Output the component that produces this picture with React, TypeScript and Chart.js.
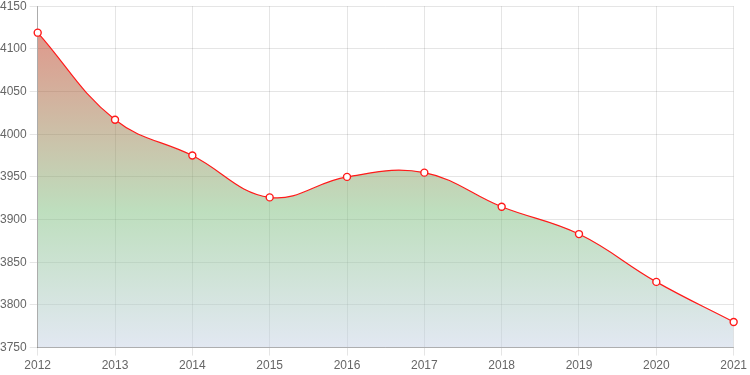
import React, { useEffect, useRef } from "react";
import { Chart, registerables } from "chart.js";

Chart.register(...registerables);

const years = ["2012", "2013", "2014", "2015", "2016", "2017", "2018", "2019", "2020", "2021"];
const values = [4119, 4017, 3975, 3926, 3950, 3955, 3915, 3883, 3827, 3780];
const yMin = 3750;
const yMax = 4150;
const yStep = 50;

export default function App() {
  const ref = useRef<HTMLCanvasElement | null>(null);

  useEffect(() => {
    document.body.style.margin = "0";
    const canvas = ref.current;
    if (!canvas) return;
    const chart = new Chart(canvas, {
      type: "line",
      data: {
        labels: years,
        datasets: [
          {
            data: values,
            borderColor: "#ff1a1a",
            borderWidth: 1.2,
            tension: 0.4,
            fill: true,
            backgroundColor: (ctx: any) => {
              const c = ctx.chart;
              const area = c.chartArea;
              if (!area) return "rgba(200,220,200,0.5)";
              const g = c.ctx.createLinearGradient(0, area.top, 0, area.bottom);
              g.addColorStop(0, "rgba(200,30,10,0.5)");
              g.addColorStop(0.6, "rgba(125,190,125,0.5)");
              g.addColorStop(1, "rgba(197,209,229,0.5)");
              return g;
            },
            pointRadius: 3.5,
            pointBorderWidth: 1.4,
            pointBackgroundColor: "#ffffff",
            pointBorderColor: "#ff1a1a",
          },
        ],
      },
      options: {
        responsive: false,
        animation: false,
        plugins: { legend: { display: false }, tooltip: { enabled: false } },
        layout: { padding: { left: -3, right: 16, top: 0, bottom: 0 } },
        scales: {
          x: {
            offset: false,
            grid: { color: "rgba(0,0,0,0.1)", tickLength: 8 },
            border: { color: "rgba(0,0,0,0.25)" },
            ticks: {
              color: "#666",
              font: { family: "'Liberation Sans', Arial, sans-serif", size: 12 },
              maxRotation: 0,
            },
          },
          y: {
            min: yMin,
            max: yMax,
            grid: { color: "rgba(0,0,0,0.1)", tickLength: 8 },
            border: { color: "rgba(0,0,0,0.25)" },
            ticks: {
              stepSize: yStep,
              color: "#666",
              font: { family: "'Liberation Sans', Arial, sans-serif", size: 12 },
              callback: (v: any) => String(v),
            },
          },
        },
      },
    });
    return () => chart.destroy();
  }, []);

  return (
    <div style={{ width: 750, height: 375, overflow: "hidden" }}>
      <canvas ref={ref} width={750} height={380} style={{ display: "block", marginTop: -4 }} />
    </div>
  );
}
